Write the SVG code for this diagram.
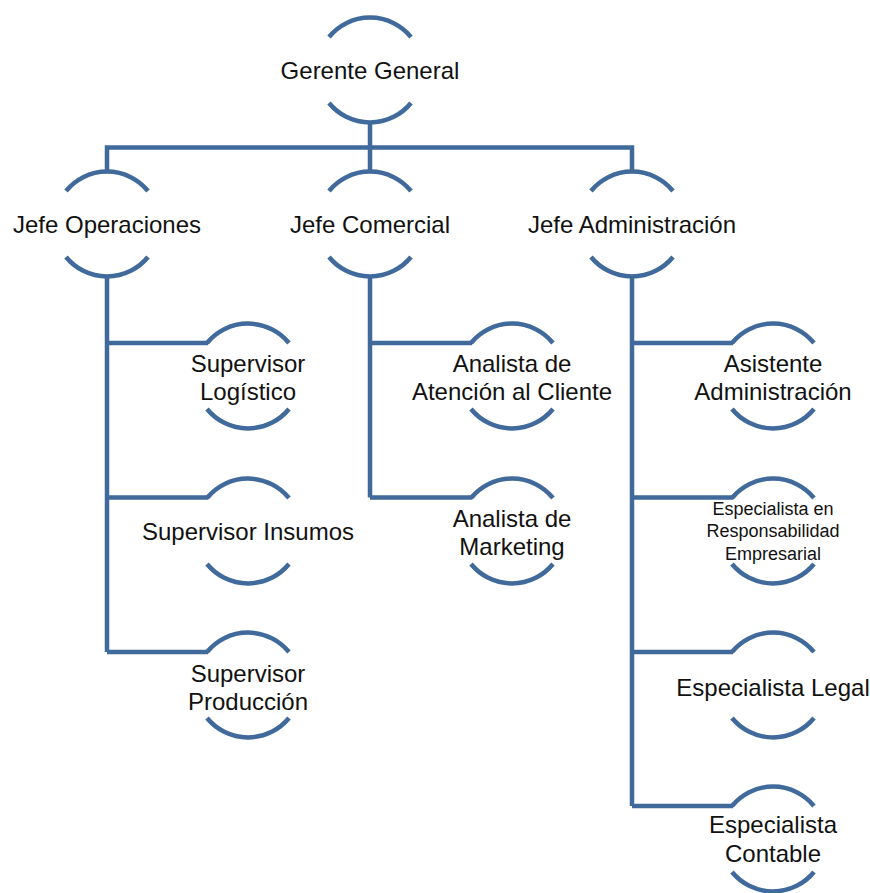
<svg xmlns="http://www.w3.org/2000/svg" width="870" height="893" viewBox="0 0 870 893">
<style>
.arc{fill:none;stroke:#40699C;stroke-width:4.5;stroke-linecap:butt}
.con{fill:none;stroke:#40699C;stroke-width:4.5;stroke-linejoin:miter}
text{font-family:"Liberation Sans",Arial,sans-serif;font-size:24px;fill:#111;text-anchor:middle}
.sm{font-size:18px}
</style>
<defs>
<path id="ring" class="arc" d="M-41,-33 A53,53 0 0 1 41,-33 M-41,33 A53,53 0 0 0 41,33"/>
</defs>
<rect width="870" height="893" fill="#fff"/>
<g id="connectors">
<path class="con" d="M370,123 V171 M107,171 V147.5 H632 V171"/>
<path class="con" d="M107,277 V652 M107,343 H208 M107,497.5 H208 M107,652 H208"/>
<path class="con" d="M370,277 V497.5 M370,343 H472 M370,497.5 H472"/>
<path class="con" d="M632,277 V806 M632,343 H733 M632,497.5 H733 M632,652 H733 M632,806 H733"/>
</g>
<g id="gerente-general" transform="translate(370,70)"><use href="#ring"/><text y="9">Gerente General</text></g>
<g id="jefe-operaciones" transform="translate(107,224)"><use href="#ring"/><text y="9">Jefe Operaciones</text></g>
<g id="jefe-comercial" transform="translate(370,224)"><use href="#ring"/><text y="9">Jefe Comercial</text></g>
<g id="jefe-administracion" transform="translate(632,224)"><use href="#ring"/><text y="9">Jefe Administración</text></g>
<g id="supervisor-logistico" transform="translate(248,376)"><use href="#ring"/><text y="-4">Supervisor</text><text y="24">Logístico</text></g>
<g id="supervisor-insumos" transform="translate(248,531)"><use href="#ring"/><text y="9">Supervisor Insumos</text></g>
<g id="supervisor-produccion" transform="translate(248,685)"><use href="#ring"/><text y="-3">Supervisor</text><text y="25">Producción</text></g>
<g id="analista-atencion" transform="translate(512,376)"><use href="#ring"/><text y="-4">Analista de</text><text y="24">Atención al Cliente</text></g>
<g id="analista-marketing" transform="translate(512,531)"><use href="#ring"/><text y="-4">Analista de</text><text y="24">Marketing</text></g>
<g id="asistente-administracion" transform="translate(773,376)"><use href="#ring"/><text y="-4">Asistente</text><text y="24">Administración</text></g>
<g id="especialista-responsabilidad" transform="translate(773,531)"><use href="#ring"/><text class="sm" y="-16">Especialista en</text><text class="sm" y="6">Responsabilidad</text><text class="sm" y="29">Empresarial</text></g>
<g id="especialista-legal" transform="translate(773,685)"><use href="#ring"/><text y="11">Especialista Legal</text></g>
<g id="especialista-contable" transform="translate(773,839)"><use href="#ring"/><text y="-6">Especialista</text><text y="23">Contable</text></g>
</svg>
